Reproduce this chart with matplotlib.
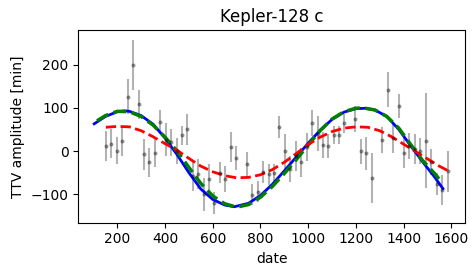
import numpy as np
import matplotlib
matplotlib.use('Agg')
import matplotlib.pyplot as plt

dates = [152, 175, 199, 221, 245, 267, 291, 313, 334, 358, 380, 404, 426, 449,
         472, 493, 516, 538, 562, 586, 607, 630, 653, 676, 699, 743, 766, 790,
         812, 836, 858, 879, 903, 925, 947, 971, 995, 1017, 1040, 1062, 1085,
         1108, 1130, 1151, 1196, 1220, 1242, 1267, 1309, 1334, 1356, 1379,
         1403, 1424, 1448, 1470, 1494, 1515, 1539, 1561, 1585]
ttv = [12, 17, 1, 23, 126, 200, 108, -8, -26, -5, 67, 26, 20, 1,
       36, 50, -57, -54, -100, -64, -121, -50, -64, 10, -17, -31, -101, -94,
       -48, -54, -50, 56, -1, -42, -12, -26, 10, 64, 40, 15, 12,
       37, 37, 64, 75, -1, -5, -63, 25, 142, 30, 105,
       -4, 12, 5, 0, 24, -25, -77, -91, -47]
ttv_err = [35, 34, 32, 35, 40, 58, 33, 36, 33, 33, 28, 38, 31, 30,
           22, 35, 35, 35, 38, 35, 25, 25, 30, 35, 28, 28, 25, 25,
           25, 25, 20, 25, 40, 30, 35, 33, 32, 30, 40, 30, 28,
           20, 20, 22, 30, 30, 38, 58, 30, 40, 35, 28,
           35, 30, 35, 30, 110, 30, 25, 35, 47]

# model curves
blue_t = [103, 150, 200, 230, 250, 300, 350, 400, 450, 500, 550, 600, 650, 690,
          750, 800, 850, 900, 950, 1000, 1050, 1100, 1150, 1200, 1240, 1280,
          1330, 1380, 1430, 1480, 1530, 1565]
blue_y = [63, 80, 91, 93, 92, 82, 62, 30, -8, -50, -88, -112, -125, -129,
          -121, -103, -77, -46, -14, 18, 48, 73, 90, 98, 99, 95,
          80, 50, 12, -25, -60, -87]

green_t = [115, 150, 200, 250, 300, 350, 400, 450, 500, 550, 600, 650, 700,
           750, 800, 850, 900, 950, 1000, 1050, 1100, 1150, 1200, 1230, 1280,
           1330, 1380, 1430, 1480, 1530, 1560]
green_y = [70, 82, 92, 91, 80, 60, 32, 0, -38, -75, -104, -122, -130,
           -124, -107, -82, -52, -20, 14, 47, 74, 91, 99, 100, 95,
           80, 53, 15, -22, -52, -72]

red_t = [152, 200, 250, 300, 350, 400, 450, 500, 550, 600, 650, 700, 750, 800,
         850, 900, 950, 1000, 1050, 1100, 1150, 1200, 1250, 1300, 1350, 1400,
         1450, 1500, 1550, 1588]
red_y = [55, 57, 56, 47, 33, 17, 2, -17, -35, -48, -57, -62, -61, -55,
         -43, -26, -6, 15, 32, 45, 53, 56, 55, 47, 33, 16,
         -1, -18, -35, -46]

fig = plt.figure(figsize=(4.77, 2.76), dpi=100)
ax = fig.add_axes([0.164, 0.193, 0.811, 0.698])

ax.errorbar(dates, ttv, yerr=ttv_err, fmt='.', ms=4, color='k', alpha=0.3)
ax.plot(blue_t, blue_y, color='b', lw=2)
ax.plot(green_t, green_y, color='g', ls='--', lw=2.5)
ax.plot(red_t, red_y, color='r', ls='--', lw=2)

ax.set_xlim(36, 1658)
ax.set_ylim(-166, 280)
ax.set_xticks([200, 400, 600, 800, 1000, 1200, 1400, 1600])
ax.set_yticks([-100, 0, 100, 200])
ax.set_title('Kepler-128 c')
ax.set_xlabel('date')
ax.set_ylabel('TTV amplitude [min]')

fig.savefig('out.png', dpi=100)
